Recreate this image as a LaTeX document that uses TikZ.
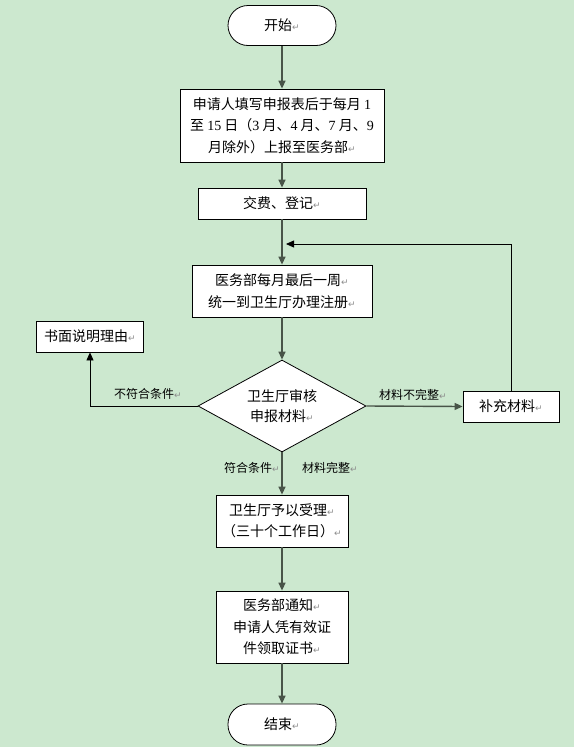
\documentclass[tikz,border=0pt]{standalone}
\usepackage{fontspec}
\usepackage{tikz}
\usetikzlibrary{arrows.meta,shapes.geometric}
\setmainfont{Noto Sans CJK SC}
\newfontfamily\latinfont{Liberation Serif}
\newfontfamily\markfont{DejaVu Sans}
\definecolor{bgcol}{RGB}{204,232,207}
\definecolor{linecol}{RGB}{72,84,72}
\newcommand{\dg}[1]{{\latinfont #1}}
\newcommand{\crmark}{{\markfont\color{black!45}\fontsize{9}{9}\selectfont ↵}}

\begin{document}
\begin{tikzpicture}[x=1pt, y=-1pt, >={Triangle[length=8pt,width=7pt]},
	box/.style={draw, fill=white, line width=0.8pt, inner sep=0pt, align=center, font=\fontsize{14}{21.5}\selectfont},
	term/.style={box, rounded corners=20pt},
	flow/.style={->, draw=linecol, line width=1.4pt},
	thin/.style={->, draw=black, line width=0.8pt},
	lbl/.style={font=\fontsize{12}{14}\selectfont}]
	\fill[bgcol] (0,0) rectangle (574,747);
	\useasboundingbox (0,0) rectangle (574,747);
	% main column
	\node[term, minimum width=108pt, minimum height=40pt] (start) at (282,25.5) {开始\crmark};
	\node[box, minimum width=204pt, minimum height=73pt] (apply) at (282,125.5)
		{申请人填写申报表后于每月 \dg{1}\\至 \dg{15} 日（\dg{3} 月、\dg{4} 月、\dg{7} 月、\dg{9}\\月除外）上报至医务部\crmark};
	\node[box, minimum width=168pt, minimum height=31pt] (pay) at (282,203.5) {交费、登记\crmark};
	\node[box, minimum width=180pt, minimum height=52pt] (reg) at (282,291)
		{医务部每月最后一周\crmark\\统一到卫生厅办理注册\crmark};
	\node[box, diamond, aspect=1.83, minimum width=168pt, minimum height=92pt,
		font=\fontsize{14}{19.5}\selectfont] (check) at (282,406) {卫生厅审核\\申报材料\crmark};
	\node[box, minimum width=132pt, minimum height=52pt] (accept) at (282,521)
		{卫生厅予以受理\crmark\\（三十个工作日）\crmark};
	\node[box, minimum width=132pt, minimum height=72pt] (notify) at (282,627)
		{医务部通知\crmark\\申请人凭有效证\\件领取证书\crmark};
	\node[term, minimum width=108pt, minimum height=41pt] (stop) at (282,724.5) {结束\crmark};
	% side boxes
	\node[box, minimum width=107pt, minimum height=31pt] (refuse) at (90,336.5) {书面说明理由\crmark};
	\node[box, minimum width=96pt, minimum height=31pt] (supp) at (511,406.5) {补充材料\crmark};
	\coordinate (back) at (286,244);

	\draw[flow] (start) -- (apply);
	\draw[flow] (apply) -- (pay);
	\draw[flow] (pay) -- (reg);
	\draw[flow] (reg) -- (check);
	\draw[flow] (check) -- (accept);
	\draw[flow] (accept) -- (notify);
	\draw[flow] (notify) -- (stop);
	\draw[flow] (check.east) -- (supp.west);
	\draw[thin] (supp.north) |- (back);
	\draw[thin] (check.west) -| (refuse.south);

	\node[lbl] (l1) at (148,394) {不符合条件\crmark};
	\node[lbl] (l2) at (413,395) {材料不完整\crmark};
	\node[lbl] (l3) at (252,468) {符合条件\crmark};
	\node[lbl] (l4) at (330,468) {材料完整\crmark};
\end{tikzpicture}
\end{document}
